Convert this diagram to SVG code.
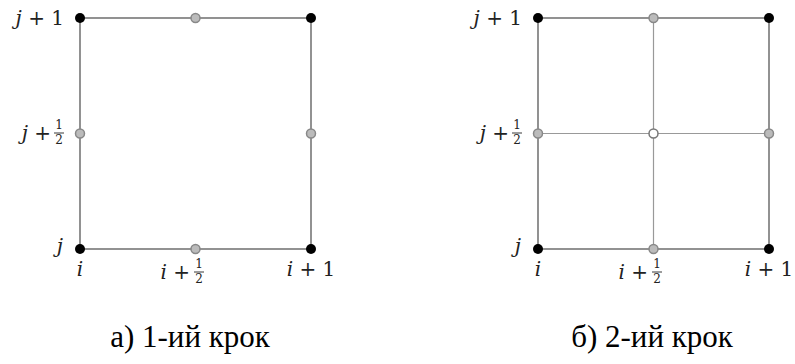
<svg xmlns="http://www.w3.org/2000/svg" width="795" height="364" viewBox="0 0 795 364">
<defs>
<style>
.edge{stroke:#777;stroke-width:1.6;fill:none}
.inner{stroke:#999;stroke-width:1.2;fill:none}
.blk{fill:#000}
.gry{fill:#bbb;stroke:#888;stroke-width:1.5}
.wht{fill:#fff;stroke:#777;stroke-width:1.5}
.fl{stroke:#222;stroke-width:0.9}
</style>
</defs>
<rect width="795" height="364" fill="#fff"/>
<g id="connectors">
<rect class="edge" x="80" y="18" width="231" height="231"/>
<rect class="edge" x="538" y="18" width="231" height="231"/>
<line class="inner" x1="653.5" y1="18" x2="653.5" y2="249"/>
<line class="inner" x1="538" y1="133.5" x2="769" y2="133.5"/>
</g>
<g id="panel-a">
<g id="a-n00"><circle class="blk" cx="80" cy="249" r="5"/></g>
<g id="a-n10"><circle class="gry" cx="195.5" cy="249" r="4.5"/></g>
<g id="a-n20"><circle class="blk" cx="311" cy="249" r="5"/></g>
<g id="a-n01"><circle class="gry" cx="80" cy="133.5" r="4.5"/></g>
<g id="a-n21"><circle class="gry" cx="311" cy="133.5" r="4.5"/></g>
<g id="a-n02"><circle class="blk" cx="80" cy="18" r="5"/></g>
<g id="a-n12"><circle class="gry" cx="195.5" cy="18" r="4.5"/></g>
<g id="a-n22"><circle class="blk" cx="311" cy="18" r="5"/></g>
<g id="a-labels" font-family="'DejaVu Serif', serif" fill="#222">
<text x="64" y="25" font-size="20" text-anchor="end"><tspan font-style="italic">j</tspan> + 1</text>
<text x="51" y="140" font-size="20" text-anchor="end"><tspan font-style="italic">j</tspan> +</text>
<text x="59" y="129" font-size="12" text-anchor="middle">1</text>
<line class="fl" x1="54" y1="133" x2="64" y2="133"/>
<text x="59" y="144" font-size="12" text-anchor="middle">2</text>
<text x="63" y="253" font-size="20" font-style="italic" text-anchor="end">j</text>
<text x="80" y="276" font-size="20" font-style="italic" text-anchor="middle">i</text>
<text x="190" y="279" font-size="20" text-anchor="end"><tspan font-style="italic">i</tspan> +</text>
<text x="199" y="268" font-size="12" text-anchor="middle">1</text>
<line class="fl" x1="194" y1="272" x2="204" y2="272"/>
<text x="199" y="283" font-size="12" text-anchor="middle">2</text>
<text x="311" y="276" font-size="20" text-anchor="middle"><tspan font-style="italic">i</tspan> + 1</text>
</g>
</g>
<g id="panel-b">
<g id="b-n00"><circle class="blk" cx="538" cy="249" r="5"/></g>
<g id="b-n10"><circle class="gry" cx="653.5" cy="249" r="4.5"/></g>
<g id="b-n20"><circle class="blk" cx="769" cy="249" r="5"/></g>
<g id="b-n01"><circle class="gry" cx="538" cy="133.5" r="4.5"/></g>
<g id="b-n11"><circle class="wht" cx="653.5" cy="133.5" r="4.5"/></g>
<g id="b-n21"><circle class="gry" cx="769" cy="133.5" r="4.5"/></g>
<g id="b-n02"><circle class="blk" cx="538" cy="18" r="5"/></g>
<g id="b-n12"><circle class="gry" cx="653.5" cy="18" r="4.5"/></g>
<g id="b-n22"><circle class="blk" cx="769" cy="18" r="5"/></g>
<g id="b-labels" font-family="'DejaVu Serif', serif" fill="#222">
<text x="522" y="25" font-size="20" text-anchor="end"><tspan font-style="italic">j</tspan> + 1</text>
<text x="509" y="140" font-size="20" text-anchor="end"><tspan font-style="italic">j</tspan> +</text>
<text x="517" y="129" font-size="12" text-anchor="middle">1</text>
<line class="fl" x1="512" y1="133" x2="522" y2="133"/>
<text x="517" y="144" font-size="12" text-anchor="middle">2</text>
<text x="521" y="253" font-size="20" font-style="italic" text-anchor="end">j</text>
<text x="538" y="276" font-size="20" font-style="italic" text-anchor="middle">i</text>
<text x="648" y="279" font-size="20" text-anchor="end"><tspan font-style="italic">i</tspan> +</text>
<text x="657" y="268" font-size="12" text-anchor="middle">1</text>
<line class="fl" x1="652" y1="272" x2="662" y2="272"/>
<text x="657" y="283" font-size="12" text-anchor="middle">2</text>
<text x="769" y="276" font-size="20" text-anchor="middle"><tspan font-style="italic">i</tspan> + 1</text>
</g>
</g>
<g id="captions" font-family="'Liberation Serif', 'Times New Roman', serif" font-size="31" fill="#000">
<text x="190" y="347" text-anchor="middle">а) 1-ий крок</text>
<text x="652" y="347" text-anchor="middle">б) 2-ий крок</text>
</g>
</svg>
